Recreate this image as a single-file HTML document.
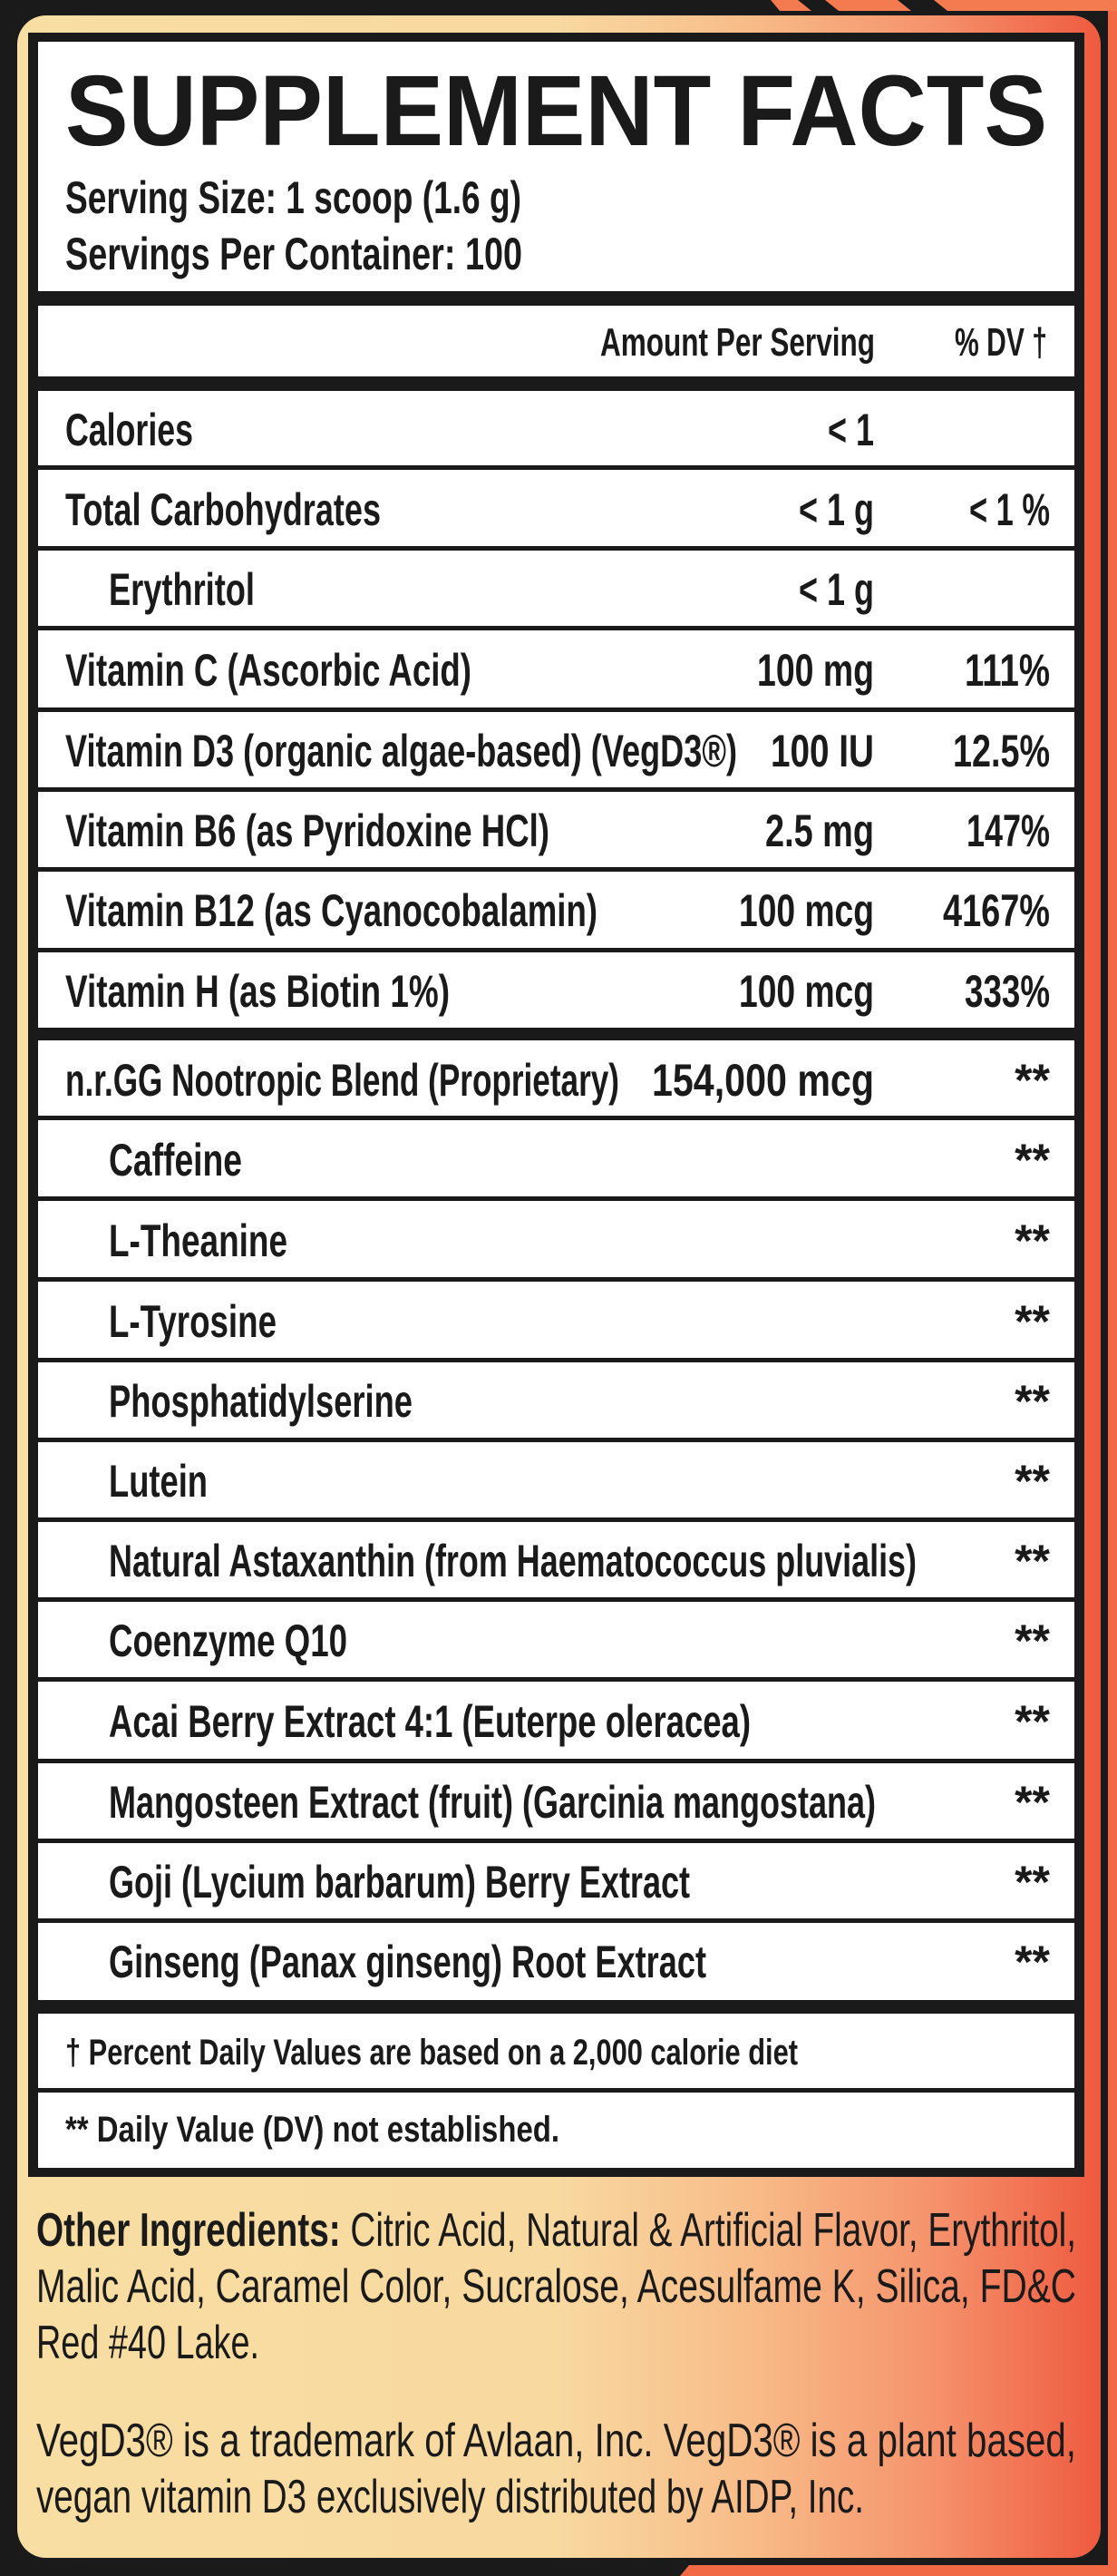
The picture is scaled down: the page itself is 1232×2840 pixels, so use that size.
<!DOCTYPE html>
<html><head><meta charset="utf-8"><style>
html,body{margin:0;padding:0;background:#1a1a1a;}
svg{display:block}
text{font-family:"Liberation Sans",sans-serif;font-weight:bold;fill:#1a1a1a}
</style></head><body>
<svg width="1232" height="2840" viewBox="0 0 1232 2840" xmlns="http://www.w3.org/2000/svg">
<defs>
<linearGradient id="g" x1="0" y1="0" x2="1" y2="0">
<stop offset="0" stop-color="#f8dea2"/>
<stop offset="0.5" stop-color="#f8d9a0"/>
<stop offset="0.68" stop-color="#f8bb88"/>
<stop offset="0.85" stop-color="#f5916b"/>
<stop offset="1" stop-color="#ef5a3f"/>
</linearGradient>
</defs>
<rect width="1232" height="2840" fill="#1a1a1a"/>
<rect x="1222" y="0" width="10" height="2840" fill="#f26a45"/>
<polygon points="850,0 1232,0 1232,12 860,12" fill="#f47a50"/>
<polygon points="880,0 910,0 925,12 895,12" fill="#1a1a1a"/>
<polygon points="990,0 1030,0 1045,12 1005,12" fill="#1a1a1a"/>
<polygon points="760,2828 1232,2828 1232,2840 750,2840" fill="#f26a45"/>
<rect x="13" y="12" width="1207" height="2814" rx="38" fill="#1a1a1a"/>
<rect x="19" y="17" width="1195" height="2803" rx="32" fill="url(#g)"/>
<rect x="31" y="36" width="1165" height="2364" fill="#1a1a1a"/>
<g fill="#fff">
<rect x="42" y="46" width="1143" height="275"/>
<rect x="42" y="337" width="1143" height="78"/>
<rect x="42" y="431" width="1143" height="82"/>
<rect x="42" y="518" width="1143" height="84"/>
<rect x="42" y="607" width="1143" height="83"/>
<rect x="42" y="695" width="1143" height="85"/>
<rect x="42" y="785" width="1143" height="83"/>
<rect x="42" y="873" width="1143" height="83"/>
<rect x="42" y="961" width="1143" height="84"/>
<rect x="42" y="1050" width="1143" height="83"/>
<rect x="42" y="1147" width="1143" height="83"/>
<rect x="42" y="1235" width="1143" height="84"/>
<rect x="42" y="1324" width="1143" height="84"/>
<rect x="42" y="1413" width="1143" height="84"/>
<rect x="42" y="1502" width="1143" height="83"/>
<rect x="42" y="1590" width="1143" height="83"/>
<rect x="42" y="1678" width="1143" height="83"/>
<rect x="42" y="1766" width="1143" height="83"/>
<rect x="42" y="1854" width="1143" height="85"/>
<rect x="42" y="1944" width="1143" height="83"/>
<rect x="42" y="2032" width="1143" height="83"/>
<rect x="42" y="2120" width="1143" height="85"/>
<rect x="42" y="2220" width="1143" height="82"/>
<rect x="42" y="2307" width="1143" height="83"/>
</g>
<text x="72" y="160" font-size="110" textLength="1083" lengthAdjust="spacingAndGlyphs">SUPPLEMENT FACTS</text>
<text x="72" y="235" font-size="50" textLength="503" lengthAdjust="spacingAndGlyphs">Serving Size: 1 scoop (1.6 g)</text>
<text x="72" y="297" font-size="50" textLength="504" lengthAdjust="spacingAndGlyphs">Servings Per Container: 100</text>
<text x="662" y="392" font-size="44" textLength="303" lengthAdjust="spacingAndGlyphs">Amount Per Serving</text>
<text x="1053" y="392" font-size="44" textLength="102" lengthAdjust="spacingAndGlyphs">% DV †</text>
<g font-size="50">
<text x="72" y="491" textLength="141" lengthAdjust="spacingAndGlyphs">Calories</text>
<text x="913" y="491" textLength="51" lengthAdjust="spacingAndGlyphs">&lt; 1</text>
<text x="72" y="579" textLength="348" lengthAdjust="spacingAndGlyphs">Total Carbohydrates</text>
<text x="881" y="579" textLength="83" lengthAdjust="spacingAndGlyphs">&lt; 1 g</text>
<text x="1069" y="579" textLength="89" lengthAdjust="spacingAndGlyphs">&lt; 1 %</text>
<text x="120" y="667" textLength="161" lengthAdjust="spacingAndGlyphs">Erythritol</text>
<text x="881" y="667" textLength="83" lengthAdjust="spacingAndGlyphs">&lt; 1 g</text>
<text x="72" y="756" textLength="448" lengthAdjust="spacingAndGlyphs">Vitamin C (Ascorbic Acid)</text>
<text x="835" y="756" textLength="129" lengthAdjust="spacingAndGlyphs">100 mg</text>
<text x="1064" y="756" textLength="94" lengthAdjust="spacingAndGlyphs">111%</text>
<text x="72" y="845" textLength="741" lengthAdjust="spacingAndGlyphs">Vitamin D3 (organic algae-based) (VegD3®)</text>
<text x="850" y="845" textLength="114" lengthAdjust="spacingAndGlyphs">100 IU</text>
<text x="1051" y="845" textLength="107" lengthAdjust="spacingAndGlyphs">12.5%</text>
<text x="72" y="933" textLength="534" lengthAdjust="spacingAndGlyphs">Vitamin B6 (as Pyridoxine HCl)</text>
<text x="844" y="933" textLength="120" lengthAdjust="spacingAndGlyphs">2.5 mg</text>
<text x="1066" y="933" textLength="92" lengthAdjust="spacingAndGlyphs">147%</text>
<text x="72" y="1021" textLength="587" lengthAdjust="spacingAndGlyphs">Vitamin B12 (as Cyanocobalamin)</text>
<text x="815" y="1021" textLength="149" lengthAdjust="spacingAndGlyphs">100 mcg</text>
<text x="1040" y="1021" textLength="118" lengthAdjust="spacingAndGlyphs">4167%</text>
<text x="72" y="1110" textLength="424" lengthAdjust="spacingAndGlyphs">Vitamin H (as Biotin 1%)</text>
<text x="815" y="1110" textLength="149" lengthAdjust="spacingAndGlyphs">100 mcg</text>
<text x="1064" y="1110" textLength="94" lengthAdjust="spacingAndGlyphs">333%</text>
<text x="72" y="1208" textLength="611" lengthAdjust="spacingAndGlyphs">n.r.GG Nootropic Blend (Proprietary)</text>
<text x="719" y="1208" textLength="245" lengthAdjust="spacingAndGlyphs">154,000 mcg</text>
</g>
<g font-size="50">
<text x="120" y="1296" textLength="147" lengthAdjust="spacingAndGlyphs">Caffeine</text>
<text x="120" y="1385" textLength="197" lengthAdjust="spacingAndGlyphs">L-Theanine</text>
<text x="120" y="1474" textLength="185" lengthAdjust="spacingAndGlyphs">L-Tyrosine</text>
<text x="120" y="1562" textLength="335" lengthAdjust="spacingAndGlyphs">Phosphatidylserine</text>
<text x="120" y="1650" textLength="109" lengthAdjust="spacingAndGlyphs">Lutein</text>
<text x="120" y="1738" textLength="891" lengthAdjust="spacingAndGlyphs">Natural Astaxanthin (from Haematococcus pluvialis)</text>
<text x="120" y="1826" textLength="263" lengthAdjust="spacingAndGlyphs">Coenzyme Q10</text>
<text x="120" y="1915" textLength="708" lengthAdjust="spacingAndGlyphs">Acai Berry Extract 4:1 (Euterpe oleracea)</text>
<text x="120" y="2004" textLength="846" lengthAdjust="spacingAndGlyphs">Mangosteen Extract (fruit) (Garcinia mangostana)</text>
<text x="120" y="2092" textLength="641" lengthAdjust="spacingAndGlyphs">Goji (Lycium barbarum) Berry Extract</text>
<text x="120" y="2180" textLength="659" lengthAdjust="spacingAndGlyphs">Ginseng (Panax ginseng) Root Extract</text>
</g>
<g font-size="50" text-anchor="end">
<text x="1158" y="1208">**</text>
<text x="1158" y="1296">**</text>
<text x="1158" y="1385">**</text>
<text x="1158" y="1474">**</text>
<text x="1158" y="1562">**</text>
<text x="1158" y="1650">**</text>
<text x="1158" y="1738">**</text>
<text x="1158" y="1826">**</text>
<text x="1158" y="1915">**</text>
<text x="1158" y="2004">**</text>
<text x="1158" y="2092">**</text>
<text x="1158" y="2180">**</text>
</g>
<text x="72" y="2276" font-size="40" textLength="808" lengthAdjust="spacingAndGlyphs">† Percent Daily Values are based on a 2,000 calorie diet</text>
<text x="72" y="2361" font-size="40" textLength="545" lengthAdjust="spacingAndGlyphs">** Daily Value (DV) not established.</text>
<g font-size="52">
<text x="40" y="2476" textLength="1147" lengthAdjust="spacingAndGlyphs"><tspan font-weight="bold">Other Ingredients:</tspan><tspan style="font-weight:normal"> Citric Acid, Natural &amp; Artificial Flavor, Erythritol,</tspan></text>
<text x="40" y="2538" style="font-weight:normal" textLength="1147" lengthAdjust="spacingAndGlyphs">Malic Acid, Caramel Color, Sucralose, Acesulfame K, Silica, FD&amp;C</text>
<text x="40" y="2600" style="font-weight:normal" textLength="246" lengthAdjust="spacingAndGlyphs">Red #40 Lake.</text>
<text x="40" y="2708" style="font-weight:normal" textLength="1147" lengthAdjust="spacingAndGlyphs">VegD3® is a trademark of Avlaan, Inc. VegD3® is a plant based,</text>
<text x="40" y="2770" style="font-weight:normal" textLength="913" lengthAdjust="spacingAndGlyphs">vegan vitamin D3 exclusively distributed by AIDP, Inc.</text>
</g>
</svg>
</body></html>
